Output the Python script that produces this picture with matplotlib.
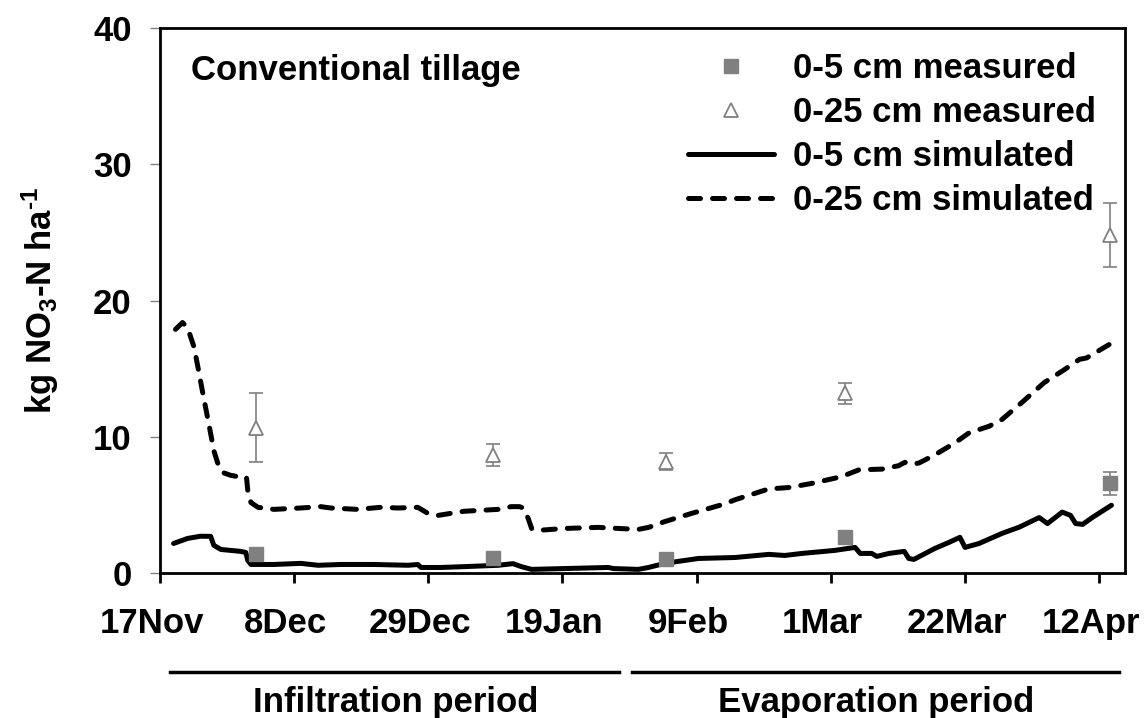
import matplotlib
matplotlib.use('Agg')
import matplotlib.pyplot as plt
import matplotlib.lines as mlines
import matplotlib.transforms as mtransforms
import pandas as pd

plt.rcParams['font.family'] = ['Liberation Sans', 'DejaVu Sans']
plt.rcParams['font.weight'] = 'bold'
plt.rcParams['mathtext.fontset'] = 'custom'
plt.rcParams['mathtext.rm'] = 'Liberation Sans:bold'
plt.rcParams['mathtext.default'] = 'rm'

# ==================== data ====================
start = pd.Timestamp('2011-11-17')

# simulated NO3-N, days after 17 Nov
sim5_day = [
    2.2, 4.4, 6.4, 8.0, 8.5, 9.6, 12.7, 13.5, 13.8, 14.3,
    17.9, 22.1, 24.8, 28.4, 33.5, 38.9, 40.4, 40.9, 44.0, 47.6,
    53.0, 55.3, 56.6, 58.2, 63.3, 70.2, 71.0, 74.9, 76.5, 79.0,
    84.3, 90.0, 95.3, 97.8, 100.5, 105.6, 108.8, 109.6, 111.4, 112.2,
    114.1, 116.5, 117.2, 118.0, 121.3, 123.5, 125.2, 126.0, 128.2, 131.8,
    134.5, 137.6, 138.9, 141.2, 142.5, 143.3, 144.4, 145.9, 148.9]
sim5_val = [
    2.20, 2.57, 2.73, 2.72, 2.06, 1.76, 1.62, 1.54, 0.96, 0.66,
    0.66, 0.74, 0.60, 0.66, 0.66, 0.60, 0.66, 0.44, 0.44, 0.50,
    0.60, 0.72, 0.50, 0.30, 0.36, 0.44, 0.36, 0.30, 0.44, 0.74,
    1.10, 1.17, 1.40, 1.32, 1.47, 1.69, 1.91, 1.47, 1.47, 1.25,
    1.47, 1.62, 1.10, 1.03, 1.84, 2.28, 2.65, 1.91, 2.20, 2.94,
    3.40, 4.10, 3.66, 4.50, 4.26, 3.66, 3.60, 4.10, 5.00]

sim25_day = [
    2.5, 3.6, 4.4, 5.4, 6.1, 6.9, 7.7, 8.5, 9.1, 9.9,
    11.1, 12.7, 13.6, 13.8, 14.3, 15.4, 17.9, 22.1, 25.2, 26.8,
    31.0, 34.6, 37.3, 40.4, 42.0, 43.6, 47.6, 53.0, 55.0, 56.3,
    56.9, 57.7, 58.2, 59.2, 63.3, 68.6, 71.8, 74.9, 76.5, 79.0,
    83.2, 88.4, 90.0, 95.3, 98.4, 102.0, 106.7, 109.4, 113.0, 115.6,
    116.6, 117.7, 118.8, 121.3, 124.5, 126.6, 129.8, 131.8, 134.8, 138.4,
    141.4, 143.9, 145.0, 148.6]
sim25_val = [
    17.9, 18.4, 18.0, 16.6, 14.9, 12.9, 11.0, 9.0, 8.1, 7.4,
    7.2, 7.06, 7.06, 6.1, 5.2, 4.85, 4.7, 4.8, 4.9, 4.8,
    4.7, 4.85, 4.8, 4.85, 4.4, 4.26, 4.56, 4.7, 4.9, 4.9,
    4.8, 4.0, 3.3, 3.16, 3.3, 3.38, 3.3, 3.23, 3.38, 3.8,
    4.4, 5.1, 5.4, 6.2, 6.3, 6.6, 7.1, 7.6, 7.65, 7.9,
    8.15, 8.0, 8.1, 8.7, 9.6, 10.3, 10.8, 11.3, 12.5, 14.0,
    14.9, 15.7, 15.8, 16.8]

# measured NO3-N (mean, sd)
meas_day = [15.1, 52.2, 79.2, 107.2, 148.6]
meas5 = [1.4, 1.1, 1.05, 2.7, 6.6]
meas5_sd = [0.3, 0.25, 0.2, 0.45, 0.85]
meas25 = [10.7, 8.7, 8.2, 13.2, 24.85]
meas25_sd = [2.5, 0.8, 0.6, 0.8, 2.35]

tick_labels = ['17Nov', '8Dec', '29Dec', '19Jan', '9Feb', '1Mar', '22Mar', '12Apr']
tick_step = 21
x_end = 151.1


def to_date(days):
    return start + pd.to_timedelta(days, unit='D')


# ==================== plot ====================
fig = plt.figure(figsize=(11.46, 7.18), dpi=100)
ax = fig.add_axes([0.1392, 0.2013, 0.8429, 0.7598])

grey = '#808080'
fs = 25

ax.plot(to_date(sim5_day), sim5_val, color='black', lw=3.6,
        solid_capstyle='round', solid_joinstyle='round', label='0-5 cm simulated', zorder=3)
ax.plot(to_date(sim25_day), sim25_val, color='black', lw=3.6, dashes=(2.4, 2.4),
        dash_capstyle='round', label='0-25 cm simulated', zorder=3)

ax.errorbar(to_date(meas_day), meas25, yerr=meas25_sd, fmt='none', ecolor=grey,
            elinewidth=1.2, capsize=5, capthick=1.2, zorder=4)
ax.errorbar(to_date(meas_day), meas5, yerr=meas5_sd, fmt='none', ecolor=grey,
            elinewidth=1.2, capsize=5, capthick=1.2, zorder=4)
ax.plot(to_date(meas_day), meas25, ls='none', marker='^', ms=10.5, mfc='white',
        mec=grey, mew=1.3, zorder=5, label='0-25 cm measured')
ax.plot(to_date(meas_day), meas5, ls='none', marker='s', ms=9.5, mfc=grey,
        mec=grey, zorder=5, label='0-5 cm measured')

ax.set_ylim(0, 40)
ax.set_yticks([0, 10, 20, 30, 40])
ax.set_xlim(to_date(0), to_date(x_end))
ax.set_xticks(to_date([i * tick_step for i in range(len(tick_labels))]))
ax.set_xticklabels(tick_labels)

ax.tick_params(axis='x', direction='out', length=7, width=2, color='black',
               labelsize=fs, pad=17)
ax.tick_params(axis='y', direction='out', length=7, width=1, color=grey,
               labelsize=fs, pad=13)
# date labels sit a little left of their ticks
shift = mtransforms.ScaledTranslation(-8 / 100, 0, fig.dpi_scale_trans)
for lab in ax.get_xticklabels():
    lab.set_transform(lab.get_transform() + shift)
for s in ax.spines.values():
    s.set_linewidth(2)

ax.text(0.033, 0.905, 'Conventional tillage', transform=ax.transAxes,
        fontsize=fs, fontweight='bold', va='baseline', ha='left')

fig.text(0.035, 0.581, r'kg NO$_3$-N ha$^{\text{-}1}$', rotation=90, ha='center',
         va='center', fontsize=fs, fontweight='bold')

# legend: measured first, then simulated
h, l = ax.get_legend_handles_labels()
order = ['0-5 cm measured', '0-25 cm measured', '0-5 cm simulated', '0-25 cm simulated']
hd = {lab: hh for hh, lab in zip(h, l)}
ax.legend([hd[k] for k in order], order, loc='upper left',
          bbox_to_anchor=(0.5466, 0.955), borderaxespad=0, borderpad=0,
          frameon=False, handlelength=2.5, handletextpad=0.55,
          labelspacing=0.31, prop={'weight': 'bold', 'size': fs})

# period bars below the axis
for x0, x1, label, xc in [(170, 619, 'Infiltration period', 396),
                          (632, 1119, 'Evaporation period', 876)]:
    fig.add_artist(mlines.Line2D([x0 / 1146, x1 / 1146], [1 - 672 / 718] * 2,
                                 color='black', lw=2.5, transform=fig.transFigure))
    fig.text(xc / 1146, 1 - 712 / 718, label, ha='center', va='baseline',
             fontsize=fs, fontweight='bold')

fig.savefig('out.png', dpi=100)
